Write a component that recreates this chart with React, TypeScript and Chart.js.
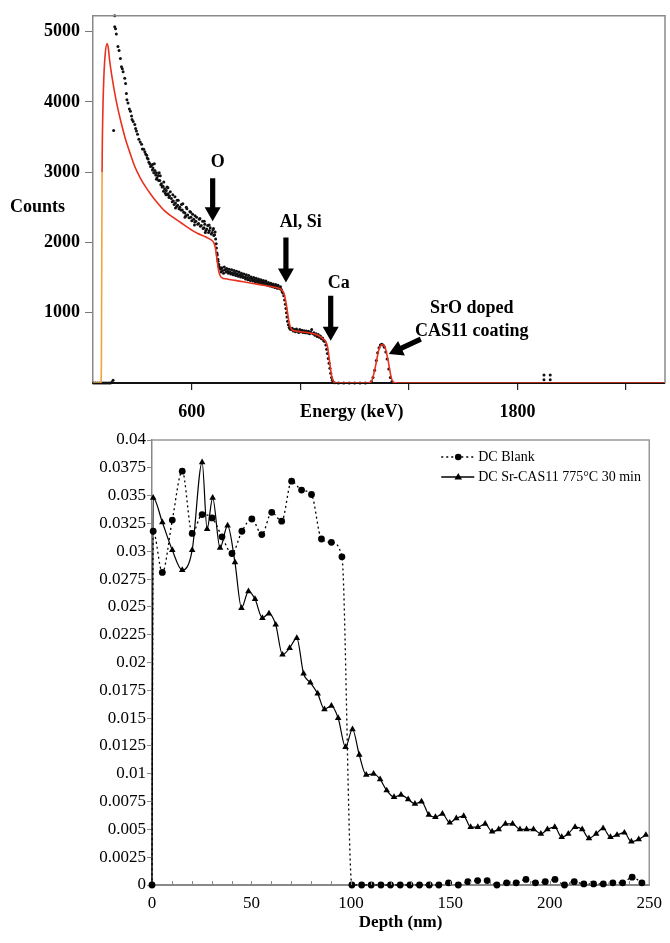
import React, { useEffect, useRef } from 'react';
import { Chart, registerables } from 'chart.js';

Chart.register(...registerables);

const SERIF = "'Times New Roman', 'Liberation Serif', Times, serif";

// ---------------- Top panel: RBS spectrum ----------------
const energyTicks = [600, 1000, 1400, 1800, 2200];
const energyTickLabels = ['600', '', '', '1800', ''];
const countTicks = [1000, 2000, 3000, 4000, 5000];

// simulated spectrum (red line)
const simEnergy = [236, 265, 267, 268, 269.5, 272, 276, 281, 288, 293, 297, 305, 315, 325, 340, 355, 370, 390, 410, 430, 450, 470, 500, 530, 560, 590, 620, 650, 670, 682, 688, 693, 698, 703, 710, 730, 760, 790, 820, 850, 880, 910, 930, 940, 947, 953, 958, 964, 972, 990, 1010, 1030, 1050, 1065, 1080, 1092, 1100, 1107, 1114, 1120, 1130, 1250, 1262, 1275, 1290, 1300, 1310, 1322, 1335, 1345, 1360, 2344];
const simCounts = [0, 0, 300, 1500, 3000, 3800, 4350, 4680, 4830, 4750, 4600, 4380, 4150, 3950, 3700, 3480, 3300, 3080, 2920, 2790, 2680, 2580, 2450, 2360, 2280, 2200, 2130, 2080, 2040, 1990, 1900, 1760, 1620, 1540, 1500, 1480, 1460, 1440, 1420, 1400, 1380, 1360, 1330, 1270, 1150, 1000, 880, 790, 750, 735, 725, 715, 700, 680, 640, 600, 520, 330, 130, 40, 0, 0, 20, 200, 480, 545, 530, 350, 80, 5, 0, 0];

// measured spectrum (black dots): [energy, counts]
const measuredPoints: [number, number][] = [
  [238, 0], [245, 0], [252, 0], [259, 0], [266, 0], [273, 0], [280, 0], [287, 0], [294, 0], [300, 0], [306, 10], [310, 40],
  [312, 3594],
  [316, 5225], [316, 5070], [319, 5040], [322, 4967], [328, 4789], [332, 4733], [337, 4616], [341, 4499], [344, 4470], [347, 4429],
  [353, 4335], [356, 4263], [359, 4120], [361, 4030], [365, 3983], [370, 3900], [374, 3866], [378, 3800], [380, 3748], [384, 3720],
  [390, 3678], [393, 3620], [396, 3585], [400, 3540], [405, 3467], [410, 3430], [415, 3397], [418, 3330], [423, 3327], [427, 3290],
  [430, 3260], [434, 3240], [436, 3200], [439, 3186], [442, 3140], [445, 3120], [448, 3080], [451, 3093], [455, 3110], [455, 3030],
  [457, 3060], [460, 2990], [464, 3023], [467, 2960], [470, 2990], [472, 2920], [476, 2953], [478, 2880], [482, 2880], [484, 2950],
  [486, 2820], [488, 2835], [491, 2790], [494, 2800], [497, 2860], [500, 2764], [503, 2700], [506, 2740], [509, 2790], [510, 2680],
  [513, 2694], [516, 2640], [518, 2660], [521, 2720], [525, 2624], [528, 2580], [532, 2590], [535, 2540], [538, 2650], [540, 2560],
  [544, 2510], [548, 2530], [550, 2600], [553, 2480], [556, 2500], [560, 2460], [565, 2460], [567, 2550], [570, 2430], [575, 2420],
  [578, 2380], [582, 2480], [585, 2390], [590, 2350], [593, 2440], [597, 2360], [600, 2310], [603, 2400], [607, 2330], [611, 2290],
  [615, 2300], [618, 2360], [622, 2260], [625, 2270], [628, 2330], [632, 2230], [635, 2240], [640, 2300], [642, 2200], [645, 2210],
  [648, 2260], [652, 2170], [655, 2190], [659, 2240], [662, 2140], [665, 2170], [668, 2210], [672, 2120], [675, 2140], [678, 2180],
  [681, 2100], [684, 2110], [686, 2150],
  [462, 3120], [480, 2990], [496, 2730], [512, 2780], [530, 2680], [546, 2600], [562, 2540], [580, 2500], [596, 2430], [612, 2380],
  [630, 2340], [646, 2300], [664, 2250], [680, 2200], [470, 2900], [505, 2680], [540, 2490], [575, 2360], [610, 2250], [650, 2140],
  [688, 2050], [690, 1980], [691, 1921], [693, 1850], [694, 1820], [696, 1760], [697, 1734], [699, 1690], [700, 1660], [703, 1640],
  [706, 1617], [708, 1580], [711, 1640], [714, 1600], [717, 1560], [720, 1650], [723, 1610], [726, 1580], [729, 1630], [732, 1590],
  [735, 1560], [738, 1620], [741, 1580], [744, 1550], [747, 1610], [750, 1570], [753, 1540], [756, 1600], [759, 1560], [762, 1530],
  [765, 1590], [768, 1550], [771, 1520], [774, 1580], [777, 1540], [780, 1510], [783, 1560], [786, 1530], [789, 1500], [792, 1550],
  [795, 1510], [798, 1480], [801, 1540], [804, 1500], [807, 1470], [810, 1530], [813, 1490], [816, 1460], [819, 1510], [822, 1480],
  [825, 1450], [828, 1500], [831, 1470], [834, 1440], [837, 1490], [840, 1460], [843, 1430], [846, 1480], [849, 1450], [852, 1420],
  [855, 1470], [858, 1440], [861, 1410], [864, 1460], [867, 1430], [870, 1400], [873, 1450], [876, 1420], [879, 1390], [882, 1430],
  [885, 1400], [888, 1380], [891, 1420], [894, 1390], [897, 1370], [900, 1410], [903, 1380], [906, 1360], [909, 1400], [912, 1370],
  [915, 1350], [918, 1390], [921, 1360], [924, 1340], [927, 1370], [930, 1330], [933, 1300], [936, 1280],
  [939, 1240], [942, 1180], [945, 1120], [947, 1060], [949, 1000], [951, 940], [953, 880], [956, 830], [959, 790], [962, 770], [966, 760],
  [970, 780], [974, 740], [978, 760], [982, 730], [986, 770], [990, 740], [994, 720], [998, 760], [1002, 730], [1006, 750],
  [1010, 720], [1014, 745], [1018, 715], [1022, 740], [1026, 710], [1030, 735], [1034, 700], [1038, 725], [1042, 760], [1046, 700],
  [1050, 715], [1054, 680], [1058, 700], [1062, 660], [1066, 690], [1070, 650], [1074, 670], [1078, 630], [1082, 640], [1086, 600], [1090, 590],
  [1094, 540], [1097, 480], [1100, 420], [1103, 350], [1106, 280], [1109, 210], [1112, 140], [1115, 80], [1118, 40], [1121, 15], [1126, 5],
  [1140, 0], [1160, 0], [1180, 0], [1200, 0], [1220, 0], [1240, 0],
  [1262, 20], [1268, 80], [1274, 180], [1280, 320], [1285, 430], [1290, 500], [1295, 540], [1300, 550], [1305, 540], [1310, 510],
  [1315, 440], [1320, 340], [1326, 200], [1332, 80], [1338, 20],
  [1898, 115], [1898, 45], [1921, 115], [1921, 45],
];

// ---------------- Bottom panel: depth profile ----------------
const depthTicks = [0, 50, 100, 150, 200, 250];
const valueTicks = [0, 0.0025, 0.005, 0.0075, 0.01, 0.0125, 0.015, 0.0175, 0.02, 0.0225, 0.025, 0.0275, 0.03, 0.0325, 0.035, 0.0375, 0.04];

const blankDepth = [0, 0.6, 5.2, 10.2, 15.2, 20.2, 25.2, 30.2, 35.2, 40.2, 45.2, 50.2, 55.2, 60.2, 65.2, 70.2, 75.2, 80.2, 85.2, 90.2, 95.5,
  100.5, 105.4, 110.2, 115.1, 119.9, 124.8, 129.7, 134.5, 139.4, 144.2, 149.1, 154.0, 158.8, 163.7, 168.5, 173.4, 178.3, 183.1, 188.0, 192.8,
  197.7, 202.6, 207.4, 212.3, 217.1, 222.0, 226.9, 231.7, 236.6, 241.4, 246.3];
const blankValue = [0, 0.0318, 0.0281, 0.0328, 0.0372, 0.0316, 0.0333, 0.0330, 0.0313, 0.0298, 0.0318, 0.0329, 0.0315, 0.0335, 0.0327, 0.0363, 0.0355, 0.0351, 0.0311, 0.0308, 0.0295,
  0, 0, 0, 0, 0, 0, 0, 0, 0, 0, 0.0002, 0, 0.0003, 0.0004, 0.0004, 0, 0.0002, 0.0002, 0.0005, 0.0002,
  0.0003, 0.0005, 0, 0.0003, 0.0001, 0.0001, 0.0001, 0.0002, 0.0002, 0.0007, 0.0002];

const srDepth = [0, 0.6, 5.2, 10.2, 15.2, 20.2, 25.2, 27.7, 30.5, 34.2, 38, 41.7, 45, 48.5, 51.8, 55.5, 58.8, 62.2, 65.6, 69.2, 72.8,
  76.2, 79.6, 83.3, 86.7, 90.2, 93.6, 97.3, 100.8, 104.2, 107.7, 111.4, 114.7, 118, 121.7, 125.2, 128.8, 132.2, 135.5, 139.2, 142.5,
  146, 149.7, 153, 156.7, 160.2, 163.8, 167.5, 171, 174.3, 177.7, 181.3, 185, 188.3, 191.8, 195.5, 198.8, 202.5, 206, 209.3, 212.7,
  216.3, 219.7, 223.3, 226.8, 230.5, 233.8, 237.5, 241, 244.7, 248.3];
const srValue = [0, 0.0348, 0.0326, 0.0301, 0.0283, 0.0301, 0.0380, 0.0320, 0.0348, 0.0303, 0.0323, 0.0290, 0.0249, 0.0264, 0.0257, 0.0240, 0.0244, 0.0234, 0.0207, 0.0213, 0.0222,
  0.0190, 0.0182, 0.0172, 0.0158, 0.0161, 0.0150, 0.0124, 0.0140, 0.0117, 0.0099, 0.0100, 0.0095, 0.0085, 0.0079, 0.0081, 0.0077, 0.0073, 0.0075, 0.0063, 0.0061,
  0.0064, 0.0056, 0.0060, 0.0062, 0.0052, 0.0052, 0.0055, 0.0048, 0.0050, 0.0055, 0.0055, 0.0050, 0.0050, 0.0050, 0.0046, 0.0050, 0.0052, 0.0043, 0.0046, 0.0052,
  0.0050, 0.0042, 0.0046, 0.0051, 0.0043, 0.0045, 0.0047, 0.0039, 0.0041, 0.0045];

const seriesNames = ['DC Blank', 'DC Sr-CAS11 775\u00B0C 30 min'];

// ---------------- drawing helpers ----------------
function drawArrow(ctx: CanvasRenderingContext2D, x0: number, y0: number, x1: number, y1: number) {
  const ang = Math.atan2(y1 - y0, x1 - x0);
  const len = Math.hypot(x1 - x0, y1 - y0);
  const hl = 14, hw = 8, sw = 2.6;
  ctx.save();
  ctx.translate(x0, y0);
  ctx.rotate(ang);
  ctx.beginPath();
  ctx.moveTo(0, -sw);
  ctx.lineTo(len - hl, -sw);
  ctx.lineTo(len - hl, -hw);
  ctx.lineTo(len, 0);
  ctx.lineTo(len - hl, hw);
  ctx.lineTo(len - hl, sw);
  ctx.lineTo(0, sw);
  ctx.closePath();
  ctx.fillStyle = '#000';
  ctx.fill();
  ctx.restore();
}

function drawTriangle(ctx: CanvasRenderingContext2D, x: number, y: number, r: number) {
  ctx.beginPath();
  ctx.moveTo(x, y - r);
  ctx.lineTo(x + r * 0.95, y + r * 0.6);
  ctx.lineTo(x - r * 0.95, y + r * 0.6);
  ctx.closePath();
  ctx.fill();
}

const topDecor = {
  id: 'topDecor',
  afterDraw(chart: any) {
    const { ctx, chartArea: a, scales } = chart;
    const x = scales.x, y = scales.y;
    ctx.save();
    ctx.strokeStyle = '#8a8a8a';
    ctx.lineWidth = 1.5;
    ctx.beginPath();
    ctx.moveTo(a.left, a.top);
    ctx.lineTo(a.right, a.top);
    ctx.lineTo(a.right, a.bottom);
    ctx.stroke();

    ctx.fillStyle = '#000';
    ctx.font = `bold 18px ${SERIF}`;
    ctx.textBaseline = 'middle';
    ctx.textAlign = 'left';
    ctx.fillText('Counts', 10, 207);
    ctx.textAlign = 'center';
    ctx.fillText('Energy (keV)', x.getPixelForValue(1190), 412);

    const px = (e: number) => x.getPixelForValue(e);
    const py = (c: number) => y.getPixelForValue(c);
    ctx.fillText('O', px(696), py(3140));
    ctx.fillText('Al, Si', px(1002), py(2282));
    ctx.fillText('Ca', px(1142), py(1424));
    ctx.fillText('SrO doped', px(1632), py(1056));
    ctx.fillText('CAS11 coating', px(1632), py(737));

    drawArrow(ctx, px(677), py(2915), px(677), py(2300));
    drawArrow(ctx, px(947), py(2071), px(947), py(1430));
    drawArrow(ctx, px(1112), py(1241), px(1112), py(600));
    drawArrow(ctx, px(1444), py(623), px(1326), py(412));
    ctx.restore();
  },
};

const bottomDecor = {
  id: 'bottomDecor',
  afterDraw(chart: any) {
    const { ctx, chartArea: a, scales } = chart;
    const x = scales.x;
    ctx.save();
    ctx.strokeStyle = '#999';
    ctx.lineWidth = 1.5;
    ctx.beginPath();
    ctx.moveTo(a.left, a.top);
    ctx.lineTo(a.right, a.top);
    ctx.lineTo(a.right, a.bottom);
    ctx.stroke();
    ctx.strokeStyle = '#888';
    ctx.lineWidth = 1;
    for (let v = 10; v < 250; v += 10) {
      const xp = Math.round(x.getPixelForValue(v)) + 0.5;
      ctx.beginPath();
      ctx.moveTo(xp, a.bottom);
      ctx.lineTo(xp, a.bottom - 4);
      ctx.stroke();
    }
    ctx.fillStyle = '#000';
    ctx.font = `bold 17px ${SERIF}`;
    ctx.textAlign = 'center';
    ctx.textBaseline = 'middle';
    ctx.fillText('Depth (nm)', (a.left + a.right) / 2, 498);

    const lx0 = a.right - 208, lx1 = a.right - 175, mx = a.right - 191, tx = a.right - 171;
    const r1 = a.top + 17, r2 = a.top + 37;
    ctx.strokeStyle = '#000';
    ctx.lineWidth = 1.3;
    ctx.setLineDash([2, 3]);
    ctx.beginPath();
    ctx.moveTo(lx0, r1);
    ctx.lineTo(lx1, r1);
    ctx.stroke();
    ctx.setLineDash([]);
    ctx.beginPath();
    ctx.moveTo(lx0, r2);
    ctx.lineTo(lx1, r2);
    ctx.stroke();
    ctx.fillStyle = '#000';
    ctx.beginPath();
    ctx.arc(mx, r1, 3.3, 0, Math.PI * 2);
    ctx.fill();
    drawTriangle(ctx, mx, r2, 4);
    ctx.font = `14px ${SERIF}`;
    ctx.textAlign = 'left';
    ctx.fillText(seriesNames[0], tx, r1);
    ctx.fillText(seriesNames[1], tx, r2);
    ctx.restore();
  },
};

export default function App() {
  const topRef = useRef<HTMLCanvasElement>(null);
  const botRef = useRef<HTMLCanvasElement>(null);

  useEffect(() => {
    const boldTick = { family: SERIF, size: 18, weight: 'bold' as const };
    const top = new Chart(topRef.current!, {
      type: 'scatter',
      data: {
        datasets: [
          {
            label: 'Simulation',
            data: simEnergy.map((e, i) => ({ x: e, y: simCounts[i] })),
            showLine: true,
            borderColor: '#e8321e',
            borderWidth: 1.6,
            pointRadius: 0,
            cubicInterpolationMode: 'monotone',
            segment: { borderColor: (c: any) => (c.p0.parsed.x < 269 ? '#f2a33a' : undefined) },
          } as any,
          {
            label: 'Measured',
            data: measuredPoints.map(([e, c]) => ({ x: e, y: c })),
            showLine: false,
            clip: false,
            pointRadius: 1.5,
            pointBorderWidth: 0,
            pointBackgroundColor: '#111',
          },
        ],
      },
      options: {
        responsive: false,
        animation: false,
        devicePixelRatio: 1,
        layout: { padding: { left: 0, right: 5, top: 12, bottom: 0 } },
        plugins: { legend: { display: false }, tooltip: { enabled: false } },
        scales: {
          x: {
            type: 'linear',
            min: 236,
            max: 2344,
            afterBuildTicks: (s: any) => { s.ticks = energyTicks.map((v) => ({ value: v })); },
            afterFit: (s: any) => { s.height = 42; },
            ticks: {
              autoSkip: false,
              maxRotation: 0,
              padding: 12,
              color: '#000',
              font: boldTick,
              callback: (_v: any, i: number) => energyTickLabels[i],
            },
            grid: { drawOnChartArea: false, drawTicks: true, tickLength: 7, color: '#222', lineWidth: 1.2 },
            border: { color: '#111', width: 2 },
          },
          y: {
            min: 0,
            max: 5225,
            afterBuildTicks: (s: any) => { s.ticks = countTicks.map((v) => ({ value: v })); },
            afterFit: (s: any) => { s.width = 93; },
            ticks: { autoSkip: false, padding: 5, color: '#000', font: boldTick, callback: (v: any) => String(v) },
            grid: { drawOnChartArea: false, drawTicks: true, tickLength: 8, color: '#777' },
            border: { color: '#888', width: 1.5 },
          },
        },
      },
      plugins: [topDecor],
    } as any);

    const bot = new Chart(botRef.current!, {
      type: 'scatter',
      data: {
        datasets: [
          {
            label: seriesNames[0],
            data: blankDepth.map((d, i) => ({ x: d, y: blankValue[i] })),
            showLine: true,
            clip: false,
            borderColor: '#000',
            borderWidth: 1.3,
            borderDash: [2, 3],
            cubicInterpolationMode: 'monotone',
            pointStyle: 'circle',
            pointRadius: 3.4,
            pointBorderWidth: 0,
            pointBackgroundColor: '#000',
          } as any,
          {
            label: seriesNames[1],
            data: srDepth.map((d, i) => ({ x: d, y: srValue[i] })),
            showLine: true,
            clip: false,
            borderColor: '#000',
            borderWidth: 1.2,
            cubicInterpolationMode: 'monotone',
            pointStyle: 'triangle',
            pointRadius: 3.8,
            pointBorderWidth: 0,
            pointBackgroundColor: '#000',
          } as any,
        ],
      },
      options: {
        responsive: false,
        animation: false,
        devicePixelRatio: 1,
        layout: { padding: { left: 0, right: 17, top: 15, bottom: 0 } },
        plugins: { legend: { display: false }, tooltip: { enabled: false } },
        scales: {
          x: {
            type: 'linear',
            min: 0,
            max: 250,
            afterBuildTicks: (s: any) => { s.ticks = depthTicks.map((v) => ({ value: v })); },
            afterFit: (s: any) => { s.height = 58; },
            ticks: { autoSkip: false, maxRotation: 0, padding: 8, color: '#000', font: { family: SERIF, size: 17 } },
            grid: { drawOnChartArea: false, drawTicks: false },
            border: { color: '#888', width: 2 },
          },
          y: {
            min: 0,
            max: 0.04,
            afterBuildTicks: (s: any) => { s.ticks = valueTicks.map((v) => ({ value: v })); },
            afterFit: (s: any) => { s.width = 152; },
            ticks: {
              autoSkip: false,
              padding: 1,
              color: '#000',
              font: { family: SERIF, size: 17 },
              callback: (v: any) => String(valueTicks.find((t) => Math.abs(t - v) < 1e-9) ?? v),
            },
            grid: { drawOnChartArea: false, drawTicks: true, tickLength: 5, color: '#888' },
            border: { color: '#888', width: 1.5 },
          },
        },
      },
      plugins: [bottomDecor],
    } as any);

    return () => {
      top.destroy();
      bot.destroy();
    };
  }, []);

  return (
    <div style={{ position: 'absolute', left: 0, top: 0, width: 670, height: 943, background: '#fff' }}>
      <canvas ref={topRef} width={670} height={425} style={{ position: 'absolute', left: 0, top: 0, display: 'block' }} />
      <canvas ref={botRef} width={670} height={518} style={{ position: 'absolute', left: 0, top: 425, display: 'block' }} />
    </div>
  );
}
